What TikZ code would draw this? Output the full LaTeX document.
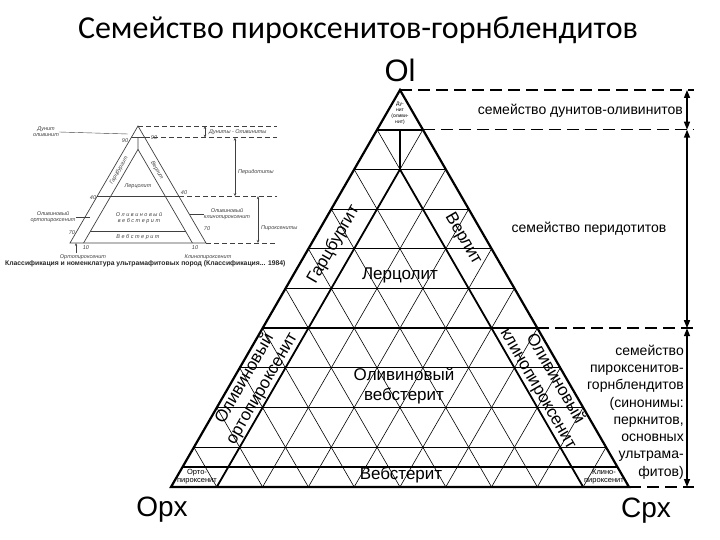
\documentclass[tikz,border=0pt]{standalone}
\usepackage{fontspec}
\setmainfont{Liberation Sans}
\newfontfamily\titlefont{Carlito}
\usetikzlibrary{arrows.meta}
\tikzset{
  gridthin/.style={line width=0.6pt},
  gridh/.style={line width=1.1pt},
  bound/.style={line width=1.8pt},
  outline/.style={line width=2.2pt, line join=miter},
  dashln/.style={line width=1.4pt, dash pattern=on 12pt off 6pt},
  famarrow/.style={line width=1.4pt, {Triangle[length=8pt,width=6pt]}-{Triangle[length=8pt,width=6pt]}},
  lbl/.style={font=\fontsize{17}{20}\selectfont, align=center, inner sep=0pt},
  tiny/.style={font=\fontsize{7.5}{8}\selectfont, align=center, inner sep=0pt},
  fam/.style={font=\fontsize{14}{17.3}\selectfont, inner sep=0pt},
  apexlbl/.style={font=\fontsize{31}{32}\selectfont, inner sep=0pt},
  ins/.style={black!75},
  insthin/.style={ins, line width=0.7pt},
  insthick/.style={ins, line width=1.4pt},
  insdash/.style={ins, line width=0.8pt, dash pattern=on 5pt off 3pt},
  insarrow/.style={ins, line width=0.6pt, {Stealth[length=3pt,width=2.5pt]}-{Stealth[length=3pt,width=2.5pt]}},
  instext/.style={ins, font=\fontsize{5.5}{6}\selectfont\itshape, align=center, inner sep=0pt},
}
\begin{document}
\begin{tikzpicture}[x=1pt,y=-1pt]
\useasboundingbox (0,0) rectangle (720,540);

% title
\node[font=\titlefont\fontsize{32}{34}\selectfont, inner sep=0pt] (title) at (358,30) {Семейство пироксенитов-горнблендитов};

% ---------------- main triangle -----------------
\coordinate (A) at (400,90);
\coordinate (B) at (171,487);
\coordinate (C) at (629,487);

\foreach \i in {1,...,9}{
  \pgfmathtruncatemacro\j{10-\i}
  \draw[gridthin] (barycentric cs:A=\j,C=\i) -- (barycentric cs:B=\j,C=\i);
  \draw[gridthin] (barycentric cs:A=\j,B=\i) -- (barycentric cs:C=\j,B=\i);
  \draw[gridh] (barycentric cs:A=\i,B=\j) -- (barycentric cs:A=\i,C=\j);
}
% key boundaries
\coordinate (l90) at (barycentric cs:A=9,B=1);
\coordinate (r90) at (barycentric cs:A=9,C=1);
\coordinate (l40) at (barycentric cs:A=4,B=6);
\coordinate (r40) at (barycentric cs:A=4,C=6);
\coordinate (l05) at (barycentric cs:A=1,B=19);
\coordinate (r05) at (barycentric cs:A=1,C=19);
\coordinate (m90) at (barycentric cs:A=18,B=1,C=1);
\coordinate (m80) at (barycentric cs:A=8,B=1,C=1);
\coordinate (bopx) at (barycentric cs:B=9,C=1);
\coordinate (bcpx) at (barycentric cs:C=9,B=1);

\draw[bound] (l90) -- (r90);
\draw[bound] (l40) -- (r40);
\draw[bound] (l05) -- (r05);
\draw[bound] (m90) -- (m80);
\draw[bound] (m80) -- (bopx);
\draw[bound] (m80) -- (bcpx);
\draw[outline] (A) -- (B) -- (C) -- cycle;

% labels in triangle
\node[font=\fontsize{5}{6}\selectfont, align=center, inner sep=0pt] (dun) at (400,113) {Ду-\\нит\\(оливи-\\нит)};
\node[lbl, rotate=60] (harz) at (barycentric cs:A=0.61,B=0.34,C=0.05) {Гарцбургит};
\node[lbl, rotate=-60] (wehr) at (barycentric cs:A=0.625,B=0.05,C=0.325) {Верлит};
\node[lbl] (lherz) at (400,275) {Лерцолит};
\node[lbl, rotate=60] (olopx) at (barycentric cs:A=0.26,B=0.69,C=0.05) {Оливиновый\\ортопироксенит};
\node[lbl, rotate=-60] (olcpx) at (barycentric cs:A=0.26,B=0.05,C=0.69) {Оливиновый\\клинопироксенит};
\node[lbl] (olweb) at (404,386) {Оливиновый\\вебстерит};
\node[lbl] (web) at (401,475) {Вебстерит};
\node[tiny] (opxr) at (197,477) {Орто-\\пироксенит};
\node[tiny] (cpxr) at (604,477) {Клино-\\пироксенит};

\node[apexlbl, anchor=base] (ol) at (400,82) {Ol};
\node[apexlbl, font=\fontsize{28}{30}\selectfont, anchor=base] (opx) at (162,516) {Opx};
\node[apexlbl, font=\fontsize{28}{30}\selectfont, anchor=base] (cpx) at (646,517) {Cpx};

% families on the right
\coordinate (E) at (694,0);
\coordinate (Ar) at (687,0);
\draw[dashln] (A) -- (A -| E);
\draw[dashln] (r90) -- (r90 -| E);
\draw[dashln] (r40) -- (r40 -| E);
\draw[dashln] (C) -- (C -| E);
\draw[famarrow] (A -| Ar) -- (r90 -| Ar);
\draw[famarrow] (r90 -| Ar) -- (r40 -| Ar);
\draw[famarrow] (r40 -| Ar) -- (C -| Ar);
\node[fam, anchor=east] (f1) at (683,111) {семейство дунитов-оливинитов};
\node[fam] (f2) at (589,229) {семейство перидотитов};
\node[fam, anchor=east, align=right] (f3) at (684,412) {семейство\\пироксенитов-\\горнблендитов\\(синонимы:\\перкнитов,\\основных\\ультрама-\\фитов)};

% ---------------- inset (scanned classification) -----------------
\coordinate (iA) at (138,126);
\coordinate (iB) at (70,243);
\coordinate (iC) at (206,243);
\coordinate (i90l) at (barycentric cs:iA=9,iB=1);
\coordinate (i90r) at (barycentric cs:iA=9,iC=1);
\coordinate (i40l) at (barycentric cs:iA=4,iB=6);
\coordinate (i40r) at (barycentric cs:iA=4,iC=6);
\coordinate (im90) at (barycentric cs:iA=18,iB=1,iC=1);
\coordinate (im80) at (barycentric cs:iA=8,iB=1,iC=1);
\coordinate (iw1) at (barycentric cs:iA=1,iB=8,iC=1);
\coordinate (iw2) at (barycentric cs:iA=1,iB=1,iC=8);
\coordinate (ib1) at (barycentric cs:iB=9,iC=1);
\coordinate (ib2) at (barycentric cs:iC=9,iB=1);
\draw[insthin] (iA) -- (iB) -- (iC) -- cycle;
\draw[insthick] (i90l) -- (i90r);
\draw[insthin] (i40l) -- (i40r);
\draw[insthin] (im90) -- (im80);
\draw[insthin] (im80) -- (iw1) -- (ib1);
\draw[insthin] (im80) -- (iw2) -- (ib2);
\draw[insthick] (iw1) -- (iw2);
% dashed family lines
\coordinate (iE) at (277,0);
\draw[insdash] (iA) -- (iA -| iE);
\draw[insdash] (i90r) -- (i90r -| iE);
\draw[insdash] (i40r) -- (i40r -| iE);
\draw[insdash] (iC) -- (iC -| iE);
\coordinate (ia1) at (205,0);
\coordinate (ia2) at (235,0);
\coordinate (ia3) at (258,0);
\draw[insarrow] (iA -| ia1) -- (i90r -| ia1);
\draw[insarrow] (i90r -| ia2) -- (i40r -| ia2);
\draw[insarrow] (i40r -| ia3) -- (iC -| ia3);
\node[instext, anchor=west] (it1) at (209,132) {Дуниты - Оливиниты};
\node[instext, anchor=west] (it2) at (238,172) {Перидотиты};
\node[instext, anchor=west] (it3) at (261,228) {Пироксениты};
% inset labels
\node[instext] (id) at (46,132) {Дунит\\оливинит};
\draw[insthin, line width=0.4pt] (id.east) -- (128,134);
\node[instext] (iolopx) at (53,217) {Оливиновый\\ортопироксенит};
\draw[insthin, line width=0.4pt] (iolopx.east) -- (90,217);
\node[instext] (iopx) at (83,257) {Ортопироксенит};
\draw[insthin, line width=0.4pt, -{Stealth[length=3pt]}] (76,253) -- (76,243);
\node[instext] (icpx) at (208,257) {Клинопироксенит};
\node[instext] (iolcpx) at (227,214) {Оливиновый\\клинопироксенит};
\draw[insthin, line width=0.4pt] (iolcpx.west) -- (190,214);
\node[instext, rotate=60] (iharz) at (barycentric cs:iA=0.62,iB=0.33,iC=0.05) {Гарцбургит};
\node[instext, rotate=-60] (iwehr) at (barycentric cs:iA=0.62,iB=0.05,iC=0.33) {Верлит};
\node[instext] (ilherz) at (138,186) {Лерцолит};
\node[instext] (iolweb) at (139,218) {О л и в и н о в ы й\\в е б с т е р и т};
\node[instext] (iweb) at (138,237) {В е б с т е р и т};
\node[instext] (n1) at (125,141) {90};
\node[instext] (n2) at (154,138) {90};
\node[instext] (n3) at (93,198) {40};
\node[instext] (n4) at (184,193) {40};
\node[instext] (n5) at (72,233) {70};
\node[instext] (n6) at (86,248) {10};
\node[instext] (n7) at (195,248) {10};
\node[instext] (n8) at (207,229) {70};
\node[font=\fontsize{6.8}{7}\selectfont\bfseries, inner sep=0pt, anchor=west, black!85] (cap) at (5,264) {Классификация и номенклатура ультрамафитовых пород (Классификация... 1984)};
\end{tikzpicture}
\end{document}
